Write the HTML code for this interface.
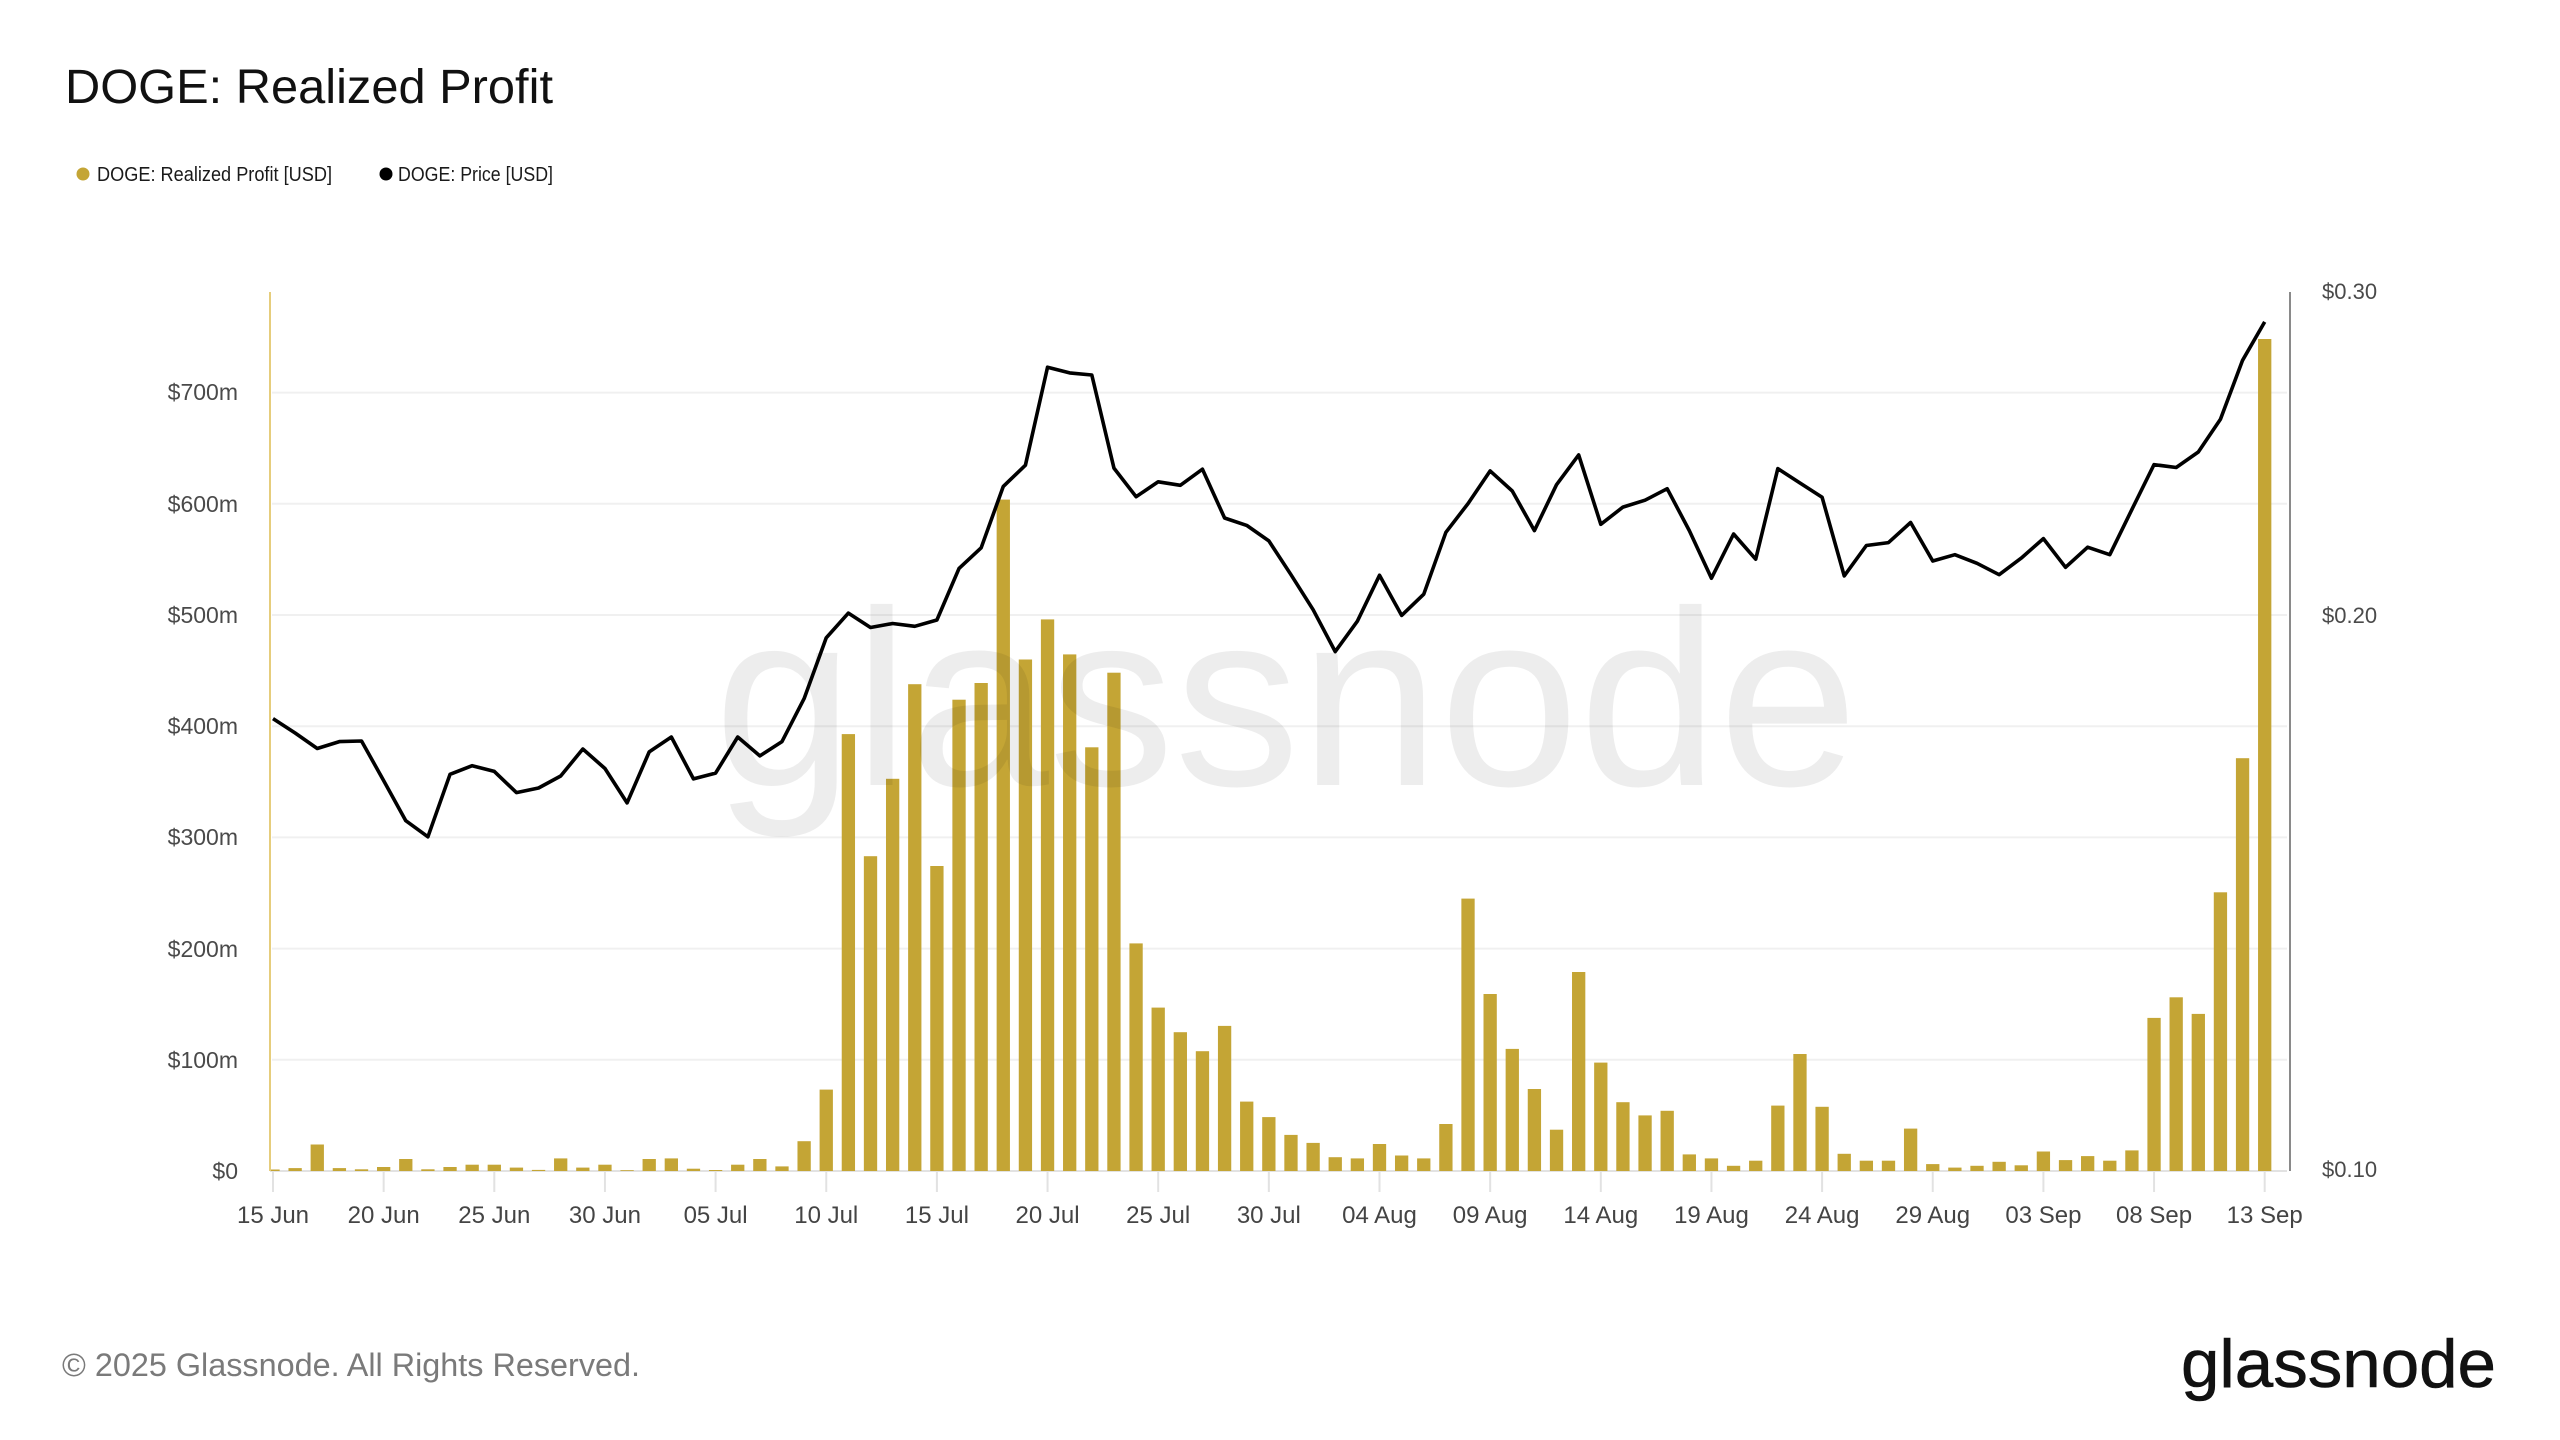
<!DOCTYPE html>
<html><head><meta charset="utf-8"><style>
html,body{margin:0;padding:0;background:#fff;}
svg{display:block;}
text{font-family:"Liberation Sans",Arial,sans-serif;}
</style></head><body>
<svg width="2560" height="1440" viewBox="0 0 2560 1440" xmlns="http://www.w3.org/2000/svg">
<rect width="2560" height="1440" fill="#fff"/>
<text x="65" y="103" font-size="48" fill="#111" textLength="488" lengthAdjust="spacingAndGlyphs">DOGE: Realized Profit</text>
<circle cx="83" cy="174" r="6.5" fill="#c4a535"/>
<text x="97" y="181" font-size="20" fill="#1a1a1a" textLength="235" lengthAdjust="spacingAndGlyphs">DOGE: Realized Profit [USD]</text>
<circle cx="386" cy="174" r="6.5" fill="#000"/>
<text x="398" y="181" font-size="20" fill="#1a1a1a" textLength="155" lengthAdjust="spacingAndGlyphs">DOGE: Price [USD]</text>
<g stroke="#f0f0f0" stroke-width="2">
<line x1="272" x2="2287" y1="1059.8" y2="1059.8"/>
<line x1="272" x2="2287" y1="948.6" y2="948.6"/>
<line x1="272" x2="2287" y1="837.4" y2="837.4"/>
<line x1="272" x2="2287" y1="726.2" y2="726.2"/>
<line x1="272" x2="2287" y1="615" y2="615"/>
<line x1="272" x2="2287" y1="503.8" y2="503.8"/>
<line x1="272" x2="2287" y1="392.6" y2="392.6"/>
</g>
<g fill="#4a4a4a" font-size="23" text-anchor="end">
<text x="238" y="1179">$0</text>
<text x="238" y="1068">$100m</text>
<text x="238" y="957">$200m</text>
<text x="238" y="845">$300m</text>
<text x="238" y="734">$400m</text>
<text x="238" y="623">$500m</text>
<text x="238" y="512">$600m</text>
<text x="238" y="400">$700m</text>
</g>
<g fill="#4a4a4a" font-size="22">
<text x="2322" y="299">$0.30</text>
<text x="2322" y="623">$0.20</text>
<text x="2322" y="1177">$0.10</text>
</g>
<g stroke="#e2e2e2" stroke-width="2">
<line x1="270" x2="2287" y1="1171" y2="1171"/>
<line x1="273" x2="273" y1="1171" y2="1192"/>
<line x1="383.65" x2="383.65" y1="1171" y2="1192"/>
<line x1="494.3" x2="494.3" y1="1171" y2="1192"/>
<line x1="604.95" x2="604.95" y1="1171" y2="1192"/>
<line x1="715.6" x2="715.6" y1="1171" y2="1192"/>
<line x1="826.25" x2="826.25" y1="1171" y2="1192"/>
<line x1="936.9" x2="936.9" y1="1171" y2="1192"/>
<line x1="1047.55" x2="1047.55" y1="1171" y2="1192"/>
<line x1="1158.2" x2="1158.2" y1="1171" y2="1192"/>
<line x1="1268.85" x2="1268.85" y1="1171" y2="1192"/>
<line x1="1379.5" x2="1379.5" y1="1171" y2="1192"/>
<line x1="1490.15" x2="1490.15" y1="1171" y2="1192"/>
<line x1="1600.8" x2="1600.8" y1="1171" y2="1192"/>
<line x1="1711.45" x2="1711.45" y1="1171" y2="1192"/>
<line x1="1822.1" x2="1822.1" y1="1171" y2="1192"/>
<line x1="1932.75" x2="1932.75" y1="1171" y2="1192"/>
<line x1="2043.4" x2="2043.4" y1="1171" y2="1192"/>
<line x1="2154.05" x2="2154.05" y1="1171" y2="1192"/>
<line x1="2264.7" x2="2264.7" y1="1171" y2="1192"/>
</g>
<g fill="#444" font-size="24" text-anchor="middle">
<text x="273" y="1223">15 Jun</text>
<text x="383.65" y="1223">20 Jun</text>
<text x="494.3" y="1223">25 Jun</text>
<text x="604.95" y="1223">30 Jun</text>
<text x="715.6" y="1223">05 Jul</text>
<text x="826.25" y="1223">10 Jul</text>
<text x="936.9" y="1223">15 Jul</text>
<text x="1047.55" y="1223">20 Jul</text>
<text x="1158.2" y="1223">25 Jul</text>
<text x="1268.85" y="1223">30 Jul</text>
<text x="1379.5" y="1223">04 Aug</text>
<text x="1490.15" y="1223">09 Aug</text>
<text x="1600.8" y="1223">14 Aug</text>
<text x="1711.45" y="1223">19 Aug</text>
<text x="1822.1" y="1223">24 Aug</text>
<text x="1932.75" y="1223">29 Aug</text>
<text x="2043.4" y="1223">03 Sep</text>
<text x="2154.05" y="1223">08 Sep</text>
<text x="2264.7" y="1223">13 Sep</text>
</g>
<defs><clipPath id="pc"><rect x="271" y="280" width="2018" height="892"/></clipPath></defs>
<g fill="#c4a535" clip-path="url(#pc)">
<rect x="266.35" y="1169.5" width="13.3" height="1.5"/>
<rect x="288.48" y="1168.1" width="13.3" height="2.9"/>
<rect x="310.61" y="1144.5" width="13.3" height="26.5"/>
<rect x="332.74" y="1168.1" width="13.3" height="2.9"/>
<rect x="354.87" y="1169.3" width="13.3" height="1.7"/>
<rect x="377.00" y="1167" width="13.3" height="4"/>
<rect x="399.13" y="1159" width="13.3" height="12"/>
<rect x="421.26" y="1169.3" width="13.3" height="1.7"/>
<rect x="443.39" y="1167" width="13.3" height="4"/>
<rect x="465.52" y="1164.7" width="13.3" height="6.3"/>
<rect x="487.65" y="1164.7" width="13.3" height="6.3"/>
<rect x="509.78" y="1167.6" width="13.3" height="3.4"/>
<rect x="531.91" y="1169.9" width="13.3" height="1.1"/>
<rect x="554.04" y="1158.4" width="13.3" height="12.6"/>
<rect x="576.17" y="1167.6" width="13.3" height="3.4"/>
<rect x="598.30" y="1164.7" width="13.3" height="6.3"/>
<rect x="620.43" y="1170.2" width="13.3" height="0.8"/>
<rect x="642.56" y="1159" width="13.3" height="12"/>
<rect x="664.69" y="1158.4" width="13.3" height="12.6"/>
<rect x="686.82" y="1168.7" width="13.3" height="2.3"/>
<rect x="708.95" y="1170" width="13.3" height="1"/>
<rect x="731.08" y="1164.7" width="13.3" height="6.3"/>
<rect x="753.21" y="1159" width="13.3" height="12"/>
<rect x="775.34" y="1166.4" width="13.3" height="4.6"/>
<rect x="797.47" y="1141.2" width="13.3" height="29.8"/>
<rect x="819.60" y="1089.6" width="13.3" height="81.4"/>
<rect x="841.73" y="734.1" width="13.3" height="436.9"/>
<rect x="863.86" y="856.2" width="13.3" height="314.8"/>
<rect x="885.99" y="778.8" width="13.3" height="392.2"/>
<rect x="908.12" y="684.2" width="13.3" height="486.8"/>
<rect x="930.25" y="866" width="13.3" height="305"/>
<rect x="952.38" y="699.7" width="13.3" height="471.3"/>
<rect x="974.51" y="683" width="13.3" height="488"/>
<rect x="996.64" y="499.6" width="13.3" height="671.4"/>
<rect x="1018.77" y="659.5" width="13.3" height="511.5"/>
<rect x="1040.90" y="619.4" width="13.3" height="551.6"/>
<rect x="1063.03" y="654.4" width="13.3" height="516.6"/>
<rect x="1085.16" y="747.3" width="13.3" height="423.7"/>
<rect x="1107.29" y="672.7" width="13.3" height="498.3"/>
<rect x="1129.42" y="943.4" width="13.3" height="227.6"/>
<rect x="1151.55" y="1007.6" width="13.3" height="163.4"/>
<rect x="1173.68" y="1032.2" width="13.3" height="138.8"/>
<rect x="1195.81" y="1051.2" width="13.3" height="119.8"/>
<rect x="1217.94" y="1025.9" width="13.3" height="145.1"/>
<rect x="1240.07" y="1101.6" width="13.3" height="69.4"/>
<rect x="1262.20" y="1117.1" width="13.3" height="53.9"/>
<rect x="1284.33" y="1134.9" width="13.3" height="36.1"/>
<rect x="1306.46" y="1142.9" width="13.3" height="28.1"/>
<rect x="1328.59" y="1157.2" width="13.3" height="13.8"/>
<rect x="1350.72" y="1158.4" width="13.3" height="12.6"/>
<rect x="1372.85" y="1144" width="13.3" height="27"/>
<rect x="1394.98" y="1155.5" width="13.3" height="15.5"/>
<rect x="1417.11" y="1158.4" width="13.3" height="12.6"/>
<rect x="1439.24" y="1124" width="13.3" height="47"/>
<rect x="1461.37" y="898.6" width="13.3" height="272.4"/>
<rect x="1483.50" y="994" width="13.3" height="177"/>
<rect x="1505.63" y="1048.9" width="13.3" height="122.1"/>
<rect x="1527.76" y="1089" width="13.3" height="82"/>
<rect x="1549.89" y="1129.7" width="13.3" height="41.3"/>
<rect x="1572.02" y="972" width="13.3" height="199"/>
<rect x="1594.15" y="1062.6" width="13.3" height="108.4"/>
<rect x="1616.28" y="1102.2" width="13.3" height="68.8"/>
<rect x="1638.41" y="1115.4" width="13.3" height="55.6"/>
<rect x="1660.54" y="1110.8" width="13.3" height="60.2"/>
<rect x="1682.67" y="1154.4" width="13.3" height="16.6"/>
<rect x="1704.80" y="1158.4" width="13.3" height="12.6"/>
<rect x="1726.93" y="1165.8" width="13.3" height="5.2"/>
<rect x="1749.06" y="1160.7" width="13.3" height="10.3"/>
<rect x="1771.19" y="1105.6" width="13.3" height="65.4"/>
<rect x="1793.32" y="1054" width="13.3" height="117"/>
<rect x="1815.45" y="1106.8" width="13.3" height="64.2"/>
<rect x="1837.58" y="1153.8" width="13.3" height="17.2"/>
<rect x="1859.71" y="1160.7" width="13.3" height="10.3"/>
<rect x="1881.84" y="1160.7" width="13.3" height="10.3"/>
<rect x="1903.97" y="1128.6" width="13.3" height="42.4"/>
<rect x="1926.10" y="1164.1" width="13.3" height="6.9"/>
<rect x="1948.23" y="1167.6" width="13.3" height="3.4"/>
<rect x="1970.36" y="1165.8" width="13.3" height="5.2"/>
<rect x="1992.49" y="1161.8" width="13.3" height="9.2"/>
<rect x="2014.62" y="1165.3" width="13.3" height="5.7"/>
<rect x="2036.75" y="1151.5" width="13.3" height="19.5"/>
<rect x="2058.88" y="1160.1" width="13.3" height="10.9"/>
<rect x="2081.01" y="1156.1" width="13.3" height="14.9"/>
<rect x="2103.14" y="1160.7" width="13.3" height="10.3"/>
<rect x="2125.27" y="1150.4" width="13.3" height="20.6"/>
<rect x="2147.40" y="1017.9" width="13.3" height="153.1"/>
<rect x="2169.53" y="997.3" width="13.3" height="173.7"/>
<rect x="2191.66" y="1013.9" width="13.3" height="157.1"/>
<rect x="2213.79" y="892.3" width="13.3" height="278.7"/>
<rect x="2235.92" y="758.2" width="13.3" height="412.8"/>
<rect x="2258.05" y="339" width="13.3" height="832"/>
</g>
<text x="714" y="785" font-size="250" fill="#000" fill-opacity="0.07" textLength="1144" lengthAdjust="spacingAndGlyphs">glassnode</text>
<line x1="270" x2="270" y1="292" y2="1171" stroke="#e6cd7c" stroke-width="2"/>
<line x1="2290" x2="2290" y1="292" y2="1171" stroke="#8a8a8a" stroke-width="2"/>
<polyline fill="none" stroke="#000" stroke-width="3.6" stroke-linejoin="round" points="273,718.6 295.13,733 317.26,748.5 339.39,741.6 361.52,741 383.65,780.6 405.78,820.7 427.91,836.8 450.04,774.3 472.17,765.7 494.3,771.4 516.43,792.6 538.56,788 560.69,776 582.82,749 604.95,768.5 627.08,802.9 649.21,751.9 671.34,737 693.47,778.9 715.6,773.1 737.73,737 759.86,755.9 781.99,741.6 804.12,698.6 826.25,637.8 848.38,613.1 870.51,627.5 892.64,623.5 914.77,626.3 936.9,620 959.03,568.4 981.16,547.8 1003.29,486.4 1025.42,465.2 1047.55,367.2 1069.68,372.9 1091.81,375 1113.94,468.1 1136.07,496.7 1158.2,481.8 1180.33,485.3 1202.46,469.2 1224.59,518 1246.72,525.4 1268.85,540.9 1290.98,574.7 1313.11,609.7 1335.24,651.6 1357.37,621.2 1379.5,575.3 1401.63,615.4 1423.76,594.2 1445.89,532.3 1468.02,503.6 1490.15,470.9 1512.28,491 1534.41,530.6 1556.54,484.7 1578.67,454.9 1600.8,524.3 1622.93,507.1 1645.06,500.2 1667.19,488.7 1689.32,530.6 1711.45,578.2 1733.58,534 1755.71,559.2 1777.84,468.6 1799.97,483 1822.1,497.3 1844.23,575.9 1866.36,545.5 1888.49,542.6 1910.62,522.5 1932.75,561 1954.88,554.7 1977.01,563.3 1999.14,574.7 2021.27,558.1 2043.4,538.6 2065.53,567.3 2087.66,547.2 2109.79,554.7 2131.92,509.4 2154.05,464.6 2176.18,467.5 2198.31,452 2220.44,419.3 2242.57,360.3 2264.7,321.9"/>
<text x="62" y="1376" font-size="32" fill="#7a7a7a" textLength="578" lengthAdjust="spacingAndGlyphs">© 2025 Glassnode. All Rights Reserved.</text>
<text x="2181" y="1387" font-size="68" fill="#111" stroke="#111" stroke-width="0.6" textLength="315" lengthAdjust="spacingAndGlyphs">glassnode</text>
</svg>
</body></html>
